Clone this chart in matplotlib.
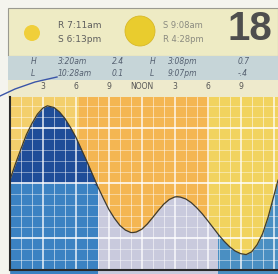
import numpy as np
import matplotlib.pyplot as plt
from matplotlib.patches import Rectangle, Circle

# tide curve every half hour (hour of day, height)
hours = [0, 0.5, 1, 1.5, 2, 2.5, 3, 3.4, 4, 4.5, 5, 5.5, 6, 6.5, 7, 7.5, 8, 8.5,
         9, 9.5, 10, 10.5, 11, 11.2, 11.5, 12, 12.5, 13, 13.5, 14, 14.5, 15, 15.2,
         15.5, 16, 16.5, 17, 17.5, 18, 18.5, 19, 19.5, 20, 20.5, 21, 21.5, 22,
         22.5, 23, 23.5, 24, 24.4]
tide = [1.06, 1.35, 1.62, 1.88, 2.08, 2.25, 2.36, 2.4, 2.37, 2.29, 2.17, 2.01,
        1.83, 1.61, 1.39, 1.16, 0.93, 0.72, 0.52, 0.36, 0.23, 0.145, 0.1, 0.1,
        0.11, 0.16, 0.255, 0.375, 0.5, 0.616, 0.7, 0.746, 0.75, 0.744, 0.71,
        0.643, 0.55, 0.441, 0.316, 0.186, 0.057, -0.059, -0.159, -0.236, -0.283,
        -0.3, -0.25, -0.12, 0.08, 0.38, 0.75, 1.05]

tick_hours = [3, 6, 9, 12, 15, 18, 21]
tick_labels = ["3", "6", "9", "NOON", "3", "6", "9"]

# day / night bands (sky) and moon bands (water)
sky_bands = [(0, 6.3, "#f3cf6c"), (6.3, 18.1, "#f4b652"), (18.1, 24.4, "#f1d35e")]
water_bands = [(0, 7.9, "#1f4d98"), (7.9, 18.9, "#c9cadd"), (18.9, 24.4, "#4a8fc2")]

tide_times = [["H", "3:20am", "2.4", "H", "3:08pm", "0.7"],
              ["L", "10:28am", "0.1", "L", "9:07pm", "-.4"]]

fig = plt.figure(figsize=(2.78, 2.74), dpi=100)

# header drawn in pixel coordinates
hd = fig.add_axes([0, 0, 1, 1], zorder=0)
hd.set_xlim(0, 278)
hd.set_ylim(274, 0)
hd.axis("off")
hd.add_patch(Rectangle((0, 0), 278, 274, fc="#f4f4ee", ec="none"))
hd.add_patch(Rectangle((8, 8), 270, 48, fc="#eeebc4", ec="#9a9a90", lw=0.8))
hd.add_patch(Rectangle((8, 56), 270, 24, fc="#c6d5d8", ec="none"))
hd.add_patch(Rectangle((8, 80), 270, 18, fc="#eeeacc", ec="none"))
hd.add_patch(Circle((32, 33), 8, fc="#f0cf3a", ec="none"))
hd.add_patch(Circle((140, 31), 15, fc="#e9cc2e", ec="#d8b828", lw=0.6))
hd.text(58, 25, "R 7:11am", fontsize=6.5, color="#5e5e5e", va="center")
hd.text(58, 40, "S 6:13pm", fontsize=6.5, color="#5e5e5e", va="center")
hd.text(163, 25, "S 9:08am", fontsize=6, color="#8a8a80", va="center")
hd.text(163, 39, "R 4:28pm", fontsize=6, color="#8a8a80", va="center")
hd.text(250, 29, "18", fontsize=29, fontweight="bold", color="#4e4e4e",
        family="Liberation Sans", ha="center", va="center")
xs = [31, 58, 112, 150, 168, 238]
for row, yy in zip(tide_times, [62, 74]):
    for x, s in zip(xs, row):
        hd.text(x, yy, s, fontsize=5.5, color="#556070", style="italic", va="center")
hd.plot([0, 15, 35, 57], [96, 89, 82, 77], color="#3a55a8", lw=1)

# tide chart
ax = fig.add_axes([10 / 278, 4 / 274, 268 / 278, 173 / 274], zorder=1)
ax.set_xlim(0, 24.4)
ax.set_ylim(-0.58, 2.56)

for x0, x1, c in sky_bands:
    ax.axvspan(x0, x1, color=c, lw=0)

for x0, x1, c in water_bands:
    poly = ax.fill_between(hours, -1, tide, color=c, lw=0)
    poly.set_clip_path(Rectangle((x0, -1), x1 - x0, 5, transform=ax.transData))

# lighter blue in the lower part of the early morning water
low = ax.fill_between(hours, -1, np.minimum(tide, 1.0), color="#3b82c2", lw=0)
low.set_clip_path(Rectangle((0, -1), 7.9, 5, transform=ax.transData))

for h in range(1, 25):
    ax.axvline(h, color="white", lw=1.3 if h % 3 == 0 else 0.5, alpha=0.75)
for v in np.arange(-0.6, 2.6, 0.2):
    major = abs(v - round(v)) < 1e-6
    ax.axhline(v, color="white", lw=1.4 if major else 0.5, alpha=0.8 if major else 0.6)

ax.plot(hours, tide, color="#3d3a30", lw=0.9)

ax.set_xticks(tick_hours)
ax.set_xticklabels(tick_labels)
ax.xaxis.tick_top()
ax.tick_params(axis="x", length=0, pad=4, labelsize=5.5, labelcolor="#555555")
ax.set_yticks([])
for s in ["top", "right"]:
    ax.spines[s].set_visible(False)
ax.spines["left"].set_color("#2a2a2a")
ax.spines["left"].set_linewidth(1.5)
ax.spines["bottom"].set_color("#2a2a2a")
ax.spines["bottom"].set_linewidth(1.5)

fig.savefig("out.png", dpi=100)
